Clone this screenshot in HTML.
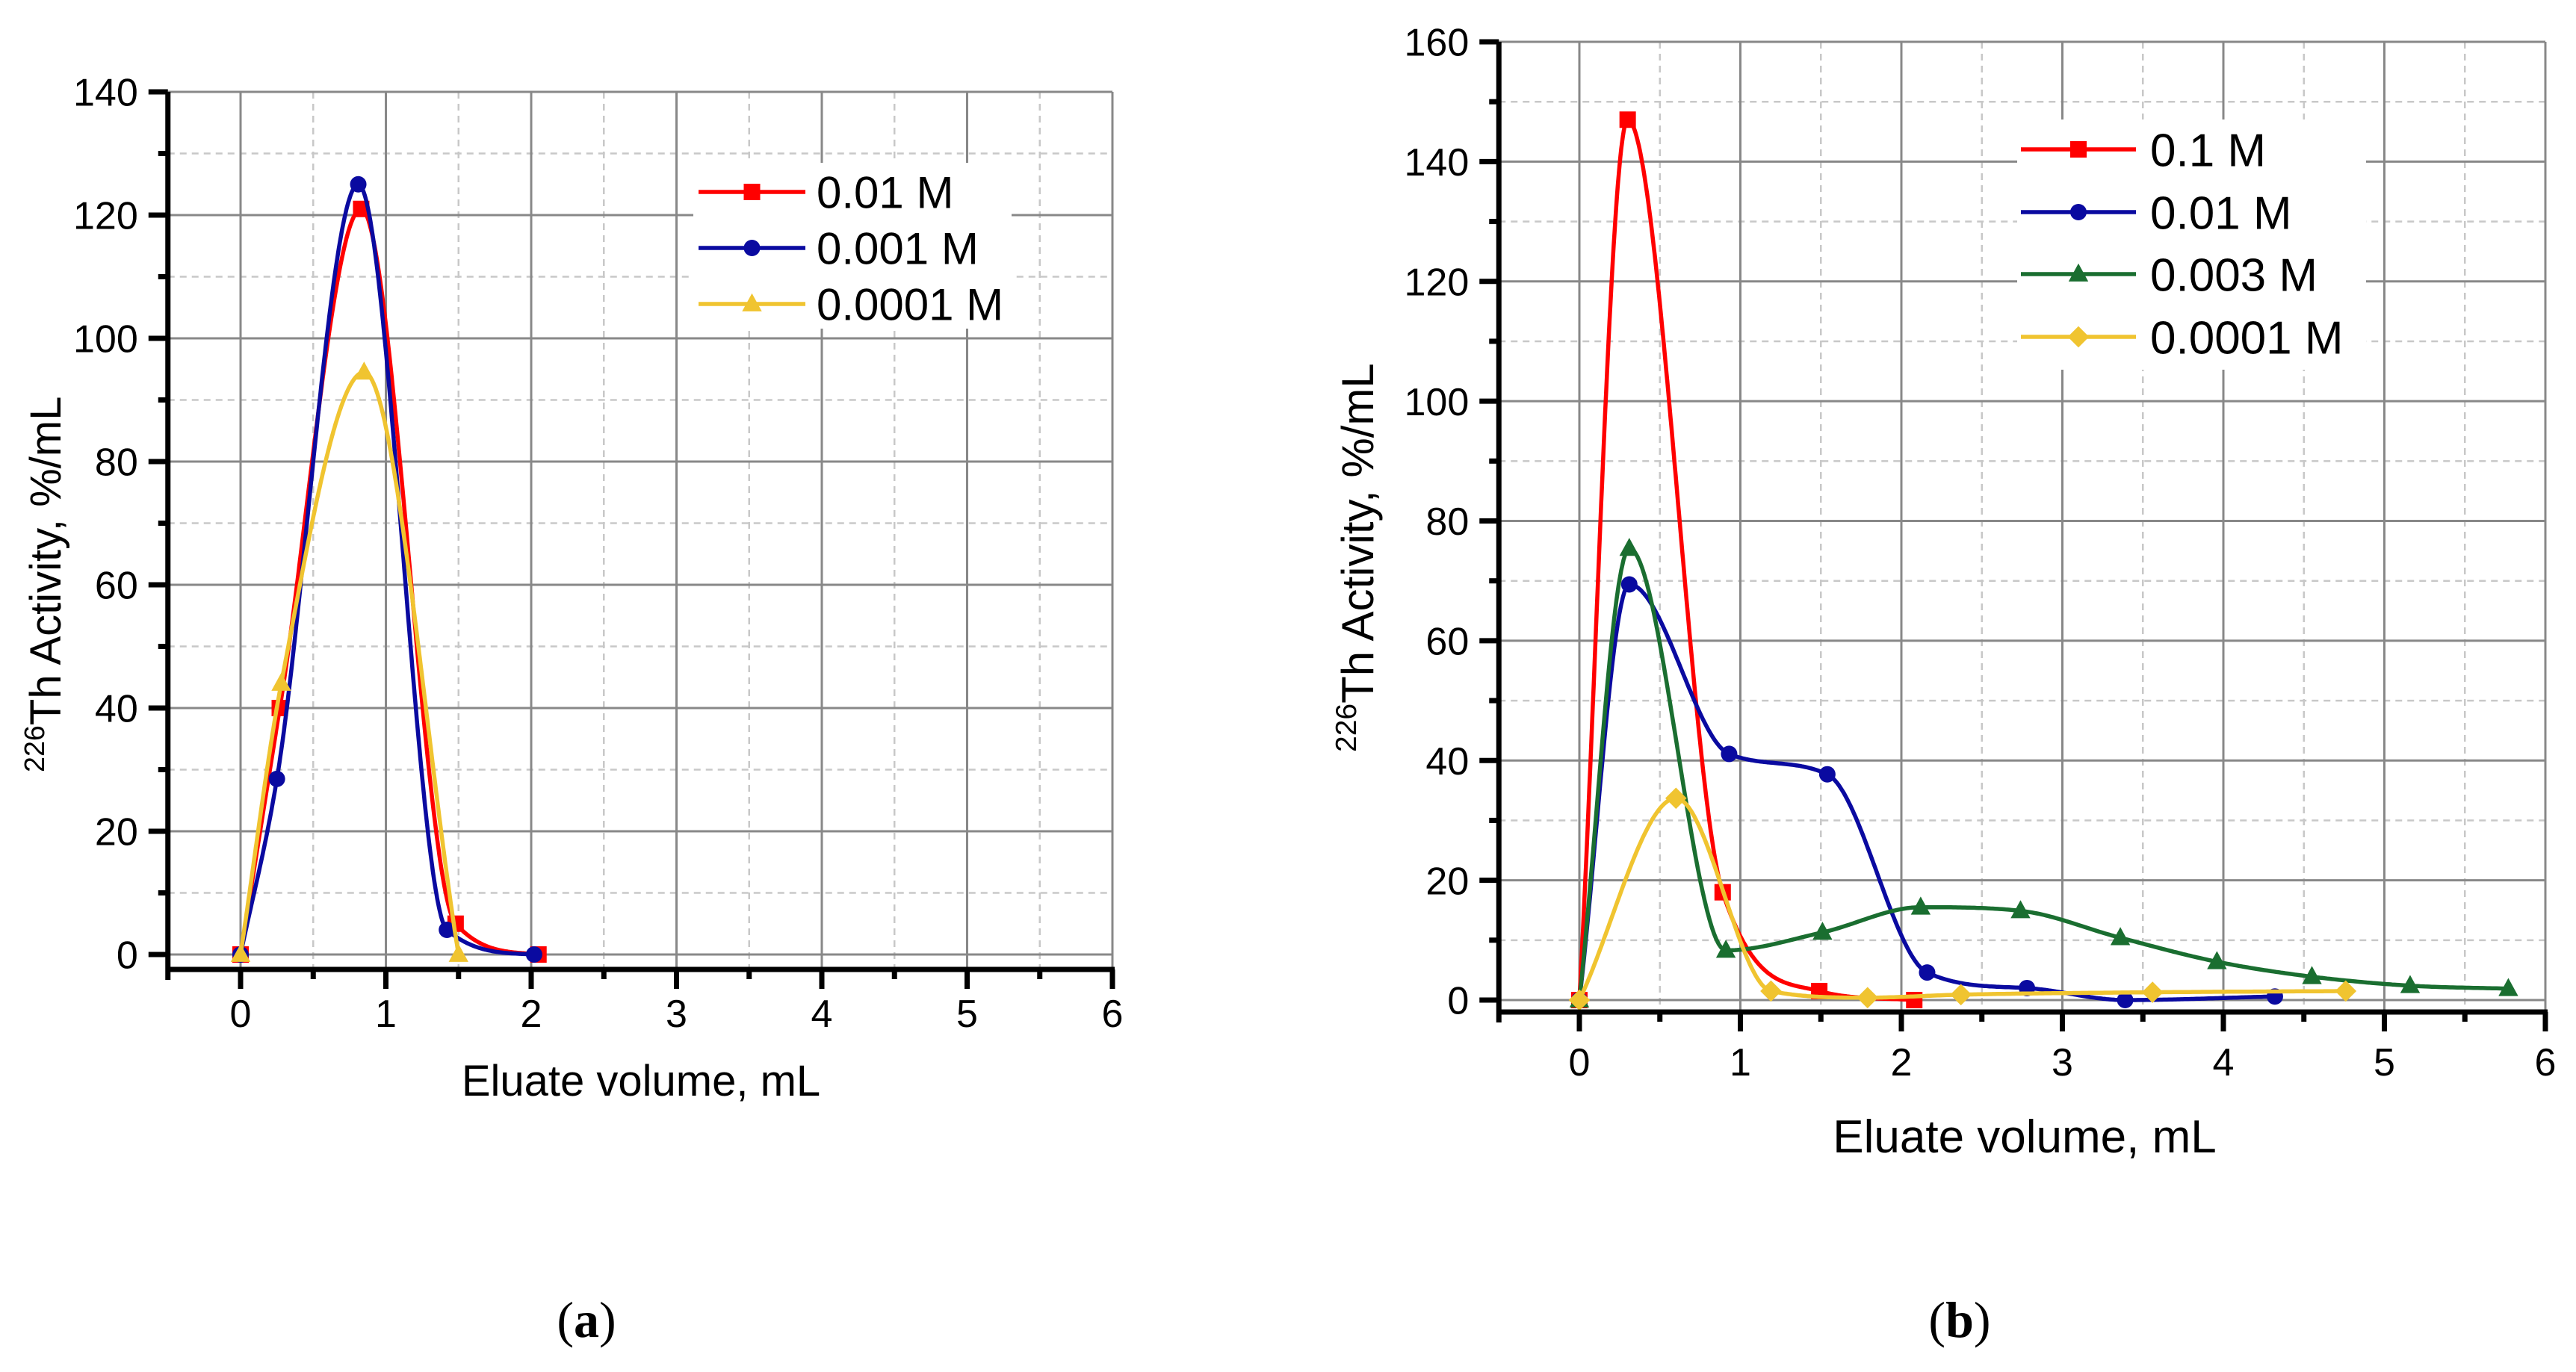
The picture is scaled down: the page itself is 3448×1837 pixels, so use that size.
<!DOCTYPE html>
<html><head><meta charset="utf-8"><style>
html,body{margin:0;padding:0;background:#fff;}
svg{display:block;font-family:"Liberation Sans",Arial,sans-serif;}
</style></head><body>
<svg id="svg" width="3448" height="1837" viewBox="0 0 3448 1837" xmlns="http://www.w3.org/2000/svg">
<text x="785" y="1790" font-family="Liberation Serif,serif" font-size="68" text-anchor="middle">(<tspan font-weight="bold">a</tspan>)</text>
<text x="2623" y="1790" font-family="Liberation Serif,serif" font-size="68" text-anchor="middle">(<tspan font-weight="bold">b</tspan>)</text>
</svg>
<script>
// ---- Chart A data ----
const aNames = ["0.01 M", "0.001 M", "0.0001 M"];
const aX1 = [0, 0.27, 0.83, 1.48, 2.05];
const aY1 = [0, 40, 121, 5, 0];
const aX2 = [0, 0.25, 0.81, 1.42, 2.02];
const aY2 = [0, 28.5, 125, 4, 0];
const aX3 = [0, 0.28, 0.85, 1.5];
const aY3 = [0, 44, 94.5, 0];
const aXTicks = [0, 1, 2, 3, 4, 5, 6];
const aYTicks = [0, 20, 40, 60, 80, 100, 120, 140];
// ---- Chart B data ----
const bNames = ["0.1 M", "0.01 M", "0.003 M", "0.0001 M"];
const bX1 = [0, 0.30, 0.89, 1.49, 2.08];
const bY1 = [0, 147, 18, 1.5, 0];
const bX2 = [0, 0.31, 0.93, 1.54, 2.16, 2.78, 3.39, 4.32];
const bY2 = [0, 69.4, 41.1, 37.7, 4.6, 2, 0, 0.6];
const bX3 = [0, 0.31, 0.91, 1.51, 2.12, 2.74, 3.36, 3.96, 4.55, 5.16, 5.77];
const bY3 = [0, 75.4, 8.3, 11.3, 15.5, 14.9, 10.4, 6.4, 3.9, 2.4, 1.9];
const bX4 = [0, 0.60, 1.19, 1.79, 2.37, 3.56, 4.76];
const bY4 = [0, 33.7, 1.5, 0.4, 0.9, 1.3, 1.5];
const bXTicks = [0, 1, 2, 3, 4, 5, 6];
const bYTicks = [0, 20, 40, 60, 80, 100, 120, 140, 160];

const NS = "http://www.w3.org/2000/svg";
const svg = document.getElementById("svg");
function mk(tag, attrs, parent) {
  const e = document.createElementNS(NS, tag);
  for (const k in attrs) e.setAttribute(k, attrs[k]);
  (parent || svg).appendChild(e);
  return e;
}
// monotone cubic (Fritsch-Carlson)
function spline(xs, ys) {
  const n = xs.length, d = [], m = [];
  for (let i = 0; i < n-1; i++) d.push((ys[i+1]-ys[i])/(xs[i+1]-xs[i]));
  m[0] = d[0]; m[n-1] = d[n-2];
  for (let i = 1; i < n-1; i++) m[i] = (d[i-1]*d[i] <= 0) ? 0 : (d[i-1]+d[i])/2;
  for (let i = 0; i < n-1; i++) {
    if (d[i] === 0) { m[i] = 0; m[i+1] = 0; continue; }
    const a = m[i]/d[i], b = m[i+1]/d[i], s = a*a + b*b;
    if (s > 9) { const t = 3/Math.sqrt(s); m[i] = t*a*d[i]; m[i+1] = t*b*d[i]; }
  }
  return t => {
    let i = 0;
    while (i < n-2 && t > xs[i+1]) i++;
    const h = xs[i+1]-xs[i], u = (t-xs[i])/h;
    const h00 = 2*u*u*u - 3*u*u + 1, h10 = u*u*u - 2*u*u + u, h01 = -2*u*u*u + 3*u*u, h11 = u*u*u - u*u;
    return h00*ys[i] + h10*h*m[i] + h01*ys[i+1] + h11*h*m[i+1];
  };
}
function marker(g, type, cx, cy, color, s) {
  let e;
  if (type === "square") e = mk("rect", {x: cx-s, y: cy-s, width: 2*s, height: 2*s, fill: color}, g);
  else if (type === "circle") e = mk("circle", {cx: cx, cy: cy, r: s, fill: color}, g);
  else if (type === "triangle") e = mk("polygon", {points: `${cx},${cy-s*1.3} ${cx-s*1.2},${cy+s*0.9} ${cx+s*1.2},${cy+s*0.9}`, fill: color}, g);
  else e = mk("polygon", {points: `${cx},${cy-s*1.3} ${cx+s*1.3},${cy} ${cx},${cy+s*1.3} ${cx-s*1.3},${cy}`, fill: color}, g);
  return e;
}
function chart(cfg) {
  const sx = v => cfg.x0 + (v - 0) * (cfg.x6 - cfg.x0) / 6;
  const sy = v => cfg.y0 - v * (cfg.y0 - cfg.yTop) / cfg.yMax;
  const left = sx(-0.5), right = sx(6), top = sy(cfg.yMax), bottom = cfg.axisBottom;
  const g = mk("g", {});
  
  
  for (let v = -0.5; v <= 6.001; v += 0.5) {
    if (Math.abs(v - Math.round(v)) < 0.01 || v < 0) continue;
    const l = mk("line", {x1: sx(v), x2: sx(v), y1: top, y2: bottom, stroke: "#c8c8c8", "stroke-width": 2.5, "stroke-dasharray": "9 7"}, g);
    
    
  }
  for (let v = 10; v < cfg.yMax; v += 20) {
    const l = mk("line", {x1: left, x2: right, y1: sy(v), y2: sy(v), stroke: "#c8c8c8", "stroke-width": 2.5, "stroke-dasharray": "9 7"}, g);
    
    
  }
  cfg.xTicks.forEach(v => {
    const l = mk("line", {x1: sx(v), x2: sx(v), y1: top, y2: bottom, stroke: "#888", "stroke-width": 3}, g);
    
    
  });
  cfg.yTicks.forEach(v => {
    const l = mk("line", {x1: left, x2: right, y1: sy(v), y2: sy(v), stroke: "#888", "stroke-width": 3}, g);
    
    
  });
  const lb = mk("rect", {x: cfg.legBox[0], y: cfg.legBox[1], width: cfg.legBox[2], height: cfg.legBox[3], fill: "#fff"}, g);
  
  
  cfg.series.forEach((s, si) => {
    const sg = mk("g", {}, g);
    
    
    const f = spline(s.x, s.y);
    let d = "";
    const x0 = s.x[0], x1 = s.x[s.x.length-1];
    for (let k = 0; k <= 400; k++) {
      const t = x0 + (x1 - x0) * k / 400;
      d += (k ? "L" : "M") + sx(t).toFixed(1) + "," + sy(f(t)).toFixed(1);
    }
    const p = mk("path", {d: d, fill: "none", stroke: s.color, "stroke-width": 5.5, "stroke-linejoin": "round"}, sg);
    
    
    s.x.forEach((xv, i) => {
      const m = marker(sg, s.marker, sx(xv), sy(s.y[i]), s.color, 11);
      
      
    });
    const ly = cfg.legY[si];
    const le = mk("g", {}, g);
    
    
    mk("line", {x1: cfg.legLine[0], x2: cfg.legLine[1], y1: ly, y2: ly, stroke: s.color, "stroke-width": 5.5}, le);
    marker(le, s.marker, (cfg.legLine[0] + cfg.legLine[1]) / 2, ly, s.color, 11);
    const t = mk("text", {x: cfg.legText, y: ly + cfg.legFont * 0.36, "font-size": cfg.legFont}, le);
    t.textContent = s.name;
  });
  const ax = mk("path", {d: `M${left},${top} L${left},${bottom + 14} M${left - 3},${bottom} L${right + 3},${bottom}`, stroke: "#000", "stroke-width": 7, fill: "none"}, g);
  
  
  cfg.yTicks.forEach(v => {
    mk("line", {x1: left - 26, x2: left, y1: sy(v), y2: sy(v), stroke: "#000", "stroke-width": 7}, g);
    const t = mk("text", {x: left - 40, y: sy(v) + cfg.tickFont * 0.36, "font-size": cfg.tickFont, "text-anchor": "end"}, g);
    
    
    t.textContent = v;
  });
  for (let v = 10; v < cfg.yMax; v += 20) mk("line", {x1: left - 13, x2: left, y1: sy(v), y2: sy(v), stroke: "#000", "stroke-width": 7}, g);
  cfg.xTicks.forEach(v => {
    mk("line", {x1: sx(v), x2: sx(v), y1: bottom, y2: bottom + 26, stroke: "#000", "stroke-width": 7}, g);
    const t = mk("text", {x: sx(v), y: bottom + cfg.xLabOff, "font-size": cfg.tickFont, "text-anchor": "middle"}, g);
    
    
    t.textContent = v;
  });
  for (let v = 0.5; v < 6; v += 1) mk("line", {x1: sx(v), x2: sx(v), y1: bottom, y2: bottom + 13, stroke: "#000", "stroke-width": 7}, g);
  const xt = mk("text", {x: cfg.xTitle[0], y: cfg.xTitle[1], "font-size": cfg.titleFont, "text-anchor": "middle"}, g);
  
  
  xt.textContent = "Eluate volume, mL";
  const yt = mk("text", {x: cfg.yTitle[0], y: cfg.yTitle[1], "font-size": cfg.yTitleFont, transform: `rotate(-90 ${cfg.yTitle[0]} ${cfg.yTitle[1]})`, "xml:space": "preserve"}, g);
  
  
  const sup = mk("tspan", {"font-size": cfg.yTitleFont * 0.65, dy: -cfg.yTitleFont * 0.38}, yt);
  sup.textContent = "226";
  const rest = mk("tspan", {dy: cfg.yTitleFont * 0.38}, yt);
  rest.textContent = "Th Activity,  %/mL";
}
chart({id: "a", x0: 322, x6: 1489, y0: 1278, yTop: 123, yMax: 140, axisBottom: 1298,
  xTicks: aXTicks, yTicks: aYTicks, tickFont: 52, titleFont: 58, yTitleFont: 58, xLabOff: 77,
  xTitle: [858, 1467], yTitle: [81, 1034],
  legBox: [928, 218, 426, 222], legY: [257, 332, 407], legLine: [935, 1078], legText: 1093, legFont: 60,
  series: [
    {name: aNames[0], x: aX1, y: aY1, color: "#ff0000", marker: "square"},
    {name: aNames[1], x: aX2, y: aY2, color: "#0a0aa0", marker: "circle"},
    {name: aNames[2], x: aX3, y: aY3, color: "#f0c430", marker: "triangle"}
  ]});
chart({id: "b", x0: 2114, x6: 3407, y0: 1339, yTop: 56, yMax: 160, axisBottom: 1355,
  xTicks: bXTicks, yTicks: bYTicks, tickFont: 52, titleFont: 62, yTitleFont: 60, xLabOff: 85,
  xTitle: [2710, 1543], yTitle: [1838, 1007],
  legBox: [2700, 160, 467, 335], legY: [200, 284, 367, 451], legLine: [2705, 2859], legText: 2878, legFont: 62,
  series: [
    {name: bNames[0], x: bX1, y: bY1, color: "#ff0000", marker: "square"},
    {name: bNames[1], x: bX2, y: bY2, color: "#0a0aa0", marker: "circle"},
    {name: bNames[2], x: bX3, y: bY3, color: "#1a6e30", marker: "triangle"},
    {name: bNames[3], x: bX4, y: bY4, color: "#f0c430", marker: "diamond"}
  ]});
</script>
</body></html>
